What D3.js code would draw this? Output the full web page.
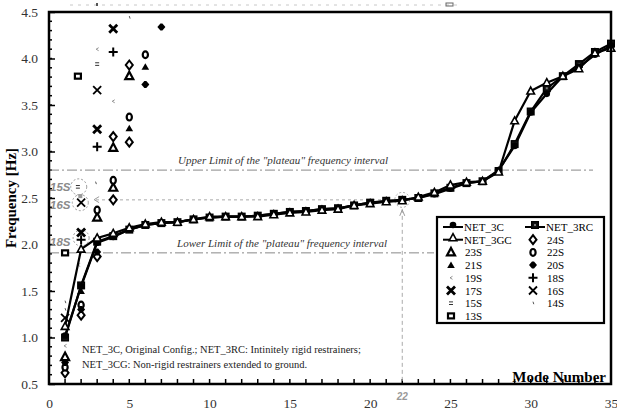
<!DOCTYPE html>
<html>
<head>
<meta charset="utf-8">
<script src="https://cdn.jsdelivr.net/npm/d3@7/dist/d3.min.js"></script>
<style>
  html, body { margin: 0; padding: 0; background: #fff; }
  svg { display: block; }
</style>
</head>
<body>
<svg id="chart" width="617" height="414" font-family="Liberation Serif, Times New Roman, serif"></svg>
<script>
// Mode numbers and natural frequencies [Hz] of the three complete structure models
const modes = d3.range(1, 36);
const net3C  = [1.02,1.55,2.02,2.08,2.16,2.21,2.23,2.24,2.27,2.29,2.30,2.30,2.31,2.33,2.35,2.36,2.38,2.39,2.42,2.45,2.46,2.48,2.50,2.54,2.60,2.66,2.68,2.80,3.06,3.42,3.62,3.81,3.91,4.04,4.14];
const net3RC = [1.00,1.56,2.03,2.09,2.16,2.21,2.23,2.24,2.27,2.29,2.30,2.30,2.31,2.33,2.35,2.36,2.38,2.39,2.42,2.45,2.47,2.48,2.50,2.55,2.61,2.66,2.68,2.79,3.08,3.43,3.68,3.81,3.94,4.07,4.16];
const net3GC = [1.12,1.95,2.07,2.12,2.18,2.22,2.24,2.24,2.27,2.30,2.30,2.30,2.30,2.32,2.34,2.35,2.37,2.38,2.42,2.44,2.46,2.47,2.51,2.56,2.64,2.67,2.68,2.78,3.33,3.65,3.74,3.81,3.89,4.06,4.11];

// Single substructure frequencies: [mode, frequency]
const s24 = [[1,0.62],[2,1.24],[3,1.87],[4,2.48],[4,3.16],[5,3.10],[5,3.93]];
const s23 = [[1,0.79],[3,2.29],[4,2.61],[4,3.04],[5,3.81]];
const s22 = [[1,0.68],[2,1.35],[3,2.37],[4,2.69],[5,3.37],[6,4.04]];
const s21 = [[2,1.50],[5,3.25],[6,3.91]];
const s20 = [[1,0.73],[2,1.30],[3,1.92],[6,3.72],[7,4.34]];
const s19 = [[1,0.91],[1.85,1.78],[3,4.10],[4,3.54]];
const s18 = [[2,2.05],[3,3.05],[4,4.07]];
const s17 = [[2,2.13],[3,3.24],[4,4.32]];
const s16 = [[1,1.21],[2,2.45],[3,3.66]];
const s15 = [[1.8,2.62],[3,3.94]];
const s14 = [[1,1.30],[1,1.38],[2.9,2.66],[5,4.44]];
const s13 = [[1,1.91],[1.8,3.81]];

const yTicks = [0.5,1.0,1.5,2.0,2.5,3.0,3.5,4.0,4.5];
const xTicks = [0,5,10,15,20,25,30,35];
const upperLimit = 2.8, lowerLimit = 1.91;
const markedMode = 22;

const SERIF = "Liberation Serif";
const SANS = "Liberation Sans";

const svg = d3.select("#chart");
const x = d3.scaleLinear().domain([0, 35]).range([49, 611]);
const y = d3.scaleLinear().domain([0.5, 4.5]).range([384, 12]);

// faint header remnant above the frame
svg.append("line").attr("x1", 70).attr("x2", 460).attr("y1", 5).attr("y2", 5)
  .attr("stroke", "#c8c8c8").attr("stroke-width", 1).attr("stroke-dasharray", "3,5");
svg.append("rect").attr("x", 96).attr("y", 3).attr("width", 2).attr("height", 3).attr("fill", "#555");
svg.append("rect").attr("x", 446).attr("y", 3).attr("width", 7).attr("height", 3).attr("fill", "none").attr("stroke", "#666");

// ---- axes ----
const yAxis = d3.axisLeft(y).tickValues(yTicks).tickFormat(d3.format(".1f"))
  .tickSizeInner(-6).tickSizeOuter(0).tickPadding(11);
const gy = svg.append("g").attr("transform", `translate(${x(0)},0)`).call(yAxis);
gy.attr("font-family", SERIF);
gy.select(".domain").remove();
gy.selectAll("text").attr("font-family", SERIF).attr("font-size", 13.5).attr("fill", "#333");
gy.selectAll("line").attr("stroke-width", 1.5);
// minor y ticks
svg.append("g").selectAll("line").data(d3.range(0.6, 4.45, 0.1))
  .join("line").attr("x1", x(0)).attr("x2", x(0) + 3)
  .attr("y1", d => y(d)).attr("y2", d => y(d)).attr("stroke", "#000").attr("stroke-width", 1.5);

const xAxis = d3.axisBottom(x).tickValues(xTicks).tickFormat(d3.format("d"))
  .tickSizeInner(0).tickSizeOuter(0).tickPadding(14);
const gx = svg.append("g").attr("transform", `translate(0,${y(0.5)})`).call(xAxis);
gx.attr("font-family", SERIF);
gx.select(".domain").remove();
gx.selectAll("text").attr("font-family", SERIF).attr("font-size", 13.5).attr("fill", "#333");
svg.append("g").selectAll("line").data(d3.range(1, 35))
  .join("line").attr("x1", d => x(d)).attr("x2", d => x(d))
  .attr("y1", y(0.5)).attr("y2", y(0.5) - 5).attr("stroke", "#000").attr("stroke-width", 1.5);

// ---- reference lines ----
svg.append("line").attr("x1", x(0)).attr("x2", 593).attr("y1", y(upperLimit)).attr("y2", y(upperLimit))
  .attr("stroke", "#888").attr("stroke-width", 1).attr("stroke-dasharray", "10,3,2,3");
svg.append("line").attr("x1", x(0)).attr("x2", 434).attr("y1", y(lowerLimit)).attr("y2", y(lowerLimit))
  .attr("stroke", "#888").attr("stroke-width", 1).attr("stroke-dasharray", "10,3,2,3");
svg.append("text").attr("x", 178).attr("y", y(upperLimit) - 6).attr("font-family", SERIF).attr("font-size", 11)
  .attr("font-style", "italic").attr("fill", "#333").attr("textLength", 210)
  .text('Upper Limit of the "plateau" frequency interval');
svg.append("text").attr("x", 177).attr("y", y(lowerLimit) - 6).attr("font-family", SERIF).attr("font-size", 11)
  .attr("font-style", "italic").attr("fill", "#333").attr("textLength", 210)
  .text('Lower Limit of the "plateau" frequency interval');

// plateau level at mode 22
const lvl = net3RC[markedMode - 1];
svg.append("line").attr("x1", 96).attr("x2", x(markedMode) - 7).attr("y1", y(lvl)).attr("y2", y(lvl))
  .attr("stroke", "#aaa").attr("stroke-width", 1).attr("stroke-dasharray", "3,3");
svg.append("line").attr("x1", x(markedMode)).attr("x2", x(markedMode)).attr("y1", y(lvl) + 9).attr("y2", y(0.5))
  .attr("stroke", "#aaa").attr("stroke-width", 1).attr("stroke-dasharray", "4,3");
svg.append("path").attr("d", `M${x(markedMode)-2.5},${y(lvl)+16} L${x(markedMode)},${y(lvl)+10} L${x(markedMode)+2.5},${y(lvl)+16}`)
  .attr("fill", "none").attr("stroke", "#999").attr("stroke-width", 1);
svg.append("circle").attr("cx", x(markedMode)).attr("cy", y(lvl)).attr("r", 7.5)
  .attr("fill", "none").attr("stroke", "#aaa").attr("stroke-dasharray", "2,2");
svg.append("text").attr("x", x(markedMode)).attr("y", 400).attr("text-anchor", "middle")
  .attr("font-family", SANS).attr("font-size", 10)
  .attr("font-style", "italic").attr("font-weight", "bold").attr("fill", "#999").text(markedMode);

// highlighted substructure modes
const callouts = [
  {label: "15S", m: 1.85, f: 2.62, ly: 191},
  {label: "16S", m: 1.95, f: 2.45, ly: 209},
  {label: "18S", m: 2.0, f: 2.07, ly: 246}
];
callouts.forEach(c => {
  svg.append("circle").attr("cx", x(c.m)).attr("cy", y(c.f)).attr("r", 8)
    .attr("fill", "none").attr("stroke", "#999").attr("stroke-dasharray", "2,2");
  svg.append("text").attr("x", 50).attr("y", c.ly).attr("font-size", 11.5)
    .attr("font-family", SANS)
    .attr("font-style", "italic").attr("font-weight", "bold").attr("fill", "#8a8a8a").text(c.label);
});
svg.append("path").attr("d", `M${x(2)+18},${y(2.45)-6} L${x(2)+13},${y(2.45)-3} L${x(2)+18},${y(2.45)}`)
  .attr("fill", "none").attr("stroke", "#999").attr("stroke-width", 1);
svg.append("rect").attr("x", x(1.95) - 2).attr("y", y(2.52) - 2).attr("width", 4).attr("height", 4).attr("fill", "#999");

// ---- marker shapes ----
function marker(g, type, cx, cy) {
  const s = g.append("g").attr("transform", `translate(${cx},${cy})`);
  switch (type) {
    case "dot":
      s.append("circle").attr("r", 3.3).attr("fill", "#000"); break;
    case "square":
      s.append("rect").attr("x", -3.3).attr("y", -3.3).attr("width", 6.6).attr("height", 6.6)
        .attr("fill", "#111").attr("stroke", "#000").attr("stroke-width", 1.4);
      s.append("rect").attr("x", -1).attr("y", -1).attr("width", 2).attr("height", 2).attr("fill", "#777"); break;
    case "tri":
      s.append("path").attr("d", "M0,-4 L3.8,3 L-3.8,3Z").attr("fill", "#fff").attr("stroke", "#000").attr("stroke-width", 1.6); break;
    case "triBold":
      s.append("path").attr("d", "M0,-4.5 L4,3 L-4,3Z").attr("fill", "#fff").attr("stroke", "#000").attr("stroke-width", 2.2); break;
    case "triFill":
      s.append("path").attr("d", "M0,-3.5 L3.8,3 L-3.8,3Z").attr("fill", "#000"); break;
    case "diamond":
      s.append("path").attr("d", "M0,-4.5 L3.5,0 L0,4.5 L-3.5,0Z").attr("fill", "#fff").attr("stroke", "#000").attr("stroke-width", 2); break;
    case "ring":
      s.append("ellipse").attr("rx", 2.6).attr("ry", 3.4).attr("fill", "#fff").attr("stroke", "#000").attr("stroke-width", 2.2); break;
    case "lens":
      s.append("path").attr("d", "M-4,0 L-1,-3.5 L1,-3.5 L4,0 L1,3.5 L-1,3.5Z").attr("fill", "#000"); break;
    case "tick":
      s.append("path").attr("d", "M1.5,-1.5 L-1,0 L1.5,1.5").attr("fill", "none").attr("stroke", "#777").attr("stroke-width", 0.8); break;
    case "plus":
      s.append("path").attr("d", "M-4.5,0 H4.5 M0,-4.5 V4.5").attr("stroke", "#000").attr("stroke-width", 2); break;
    case "xBold":
      s.append("path").attr("d", "M-4,-4 L4,4 M4,-4 L-4,4").attr("stroke", "#000").attr("stroke-width", 2.8); break;
    case "x":
      s.append("path").attr("d", "M-4,-4 L4,4 M4,-4 L-4,4").attr("stroke", "#000").attr("stroke-width", 1.8); break;
    case "eq":
      s.append("path").attr("d", "M-2,-1.3 H2 M-2,1.3 H2").attr("stroke", "#333").attr("stroke-width", 1); break;
    case "speck":
      s.append("path").attr("d", "M0,-1.5 L0.8,1").attr("stroke", "#555").attr("stroke-width", 1); break;
    case "box":
      s.append("rect").attr("x", -3).attr("y", -2.5).attr("width", 6).attr("height", 5)
        .attr("fill", "#fff").attr("stroke", "#000").attr("stroke-width", 2.2); break;
  }
}

// ---- substructure scatter ----
const scatter = [
  {name: "24S", data: s24, type: "diamond"},
  {name: "23S", data: s23, type: "triBold"},
  {name: "22S", data: s22, type: "ring"},
  {name: "21S", data: s21, type: "triFill"},
  {name: "20S", data: s20, type: "lens"},
  {name: "19S", data: s19, type: "tick"},
  {name: "18S", data: s18, type: "plus"},
  {name: "17S", data: s17, type: "xBold"},
  {name: "16S", data: s16, type: "x"},
  {name: "15S", data: s15, type: "eq"},
  {name: "14S", data: s14, type: "speck"},
  {name: "13S", data: s13, type: "box"}
];
const gS = svg.append("g");
scatter.forEach(s => s.data.forEach(p => marker(gS, s.type, x(p[0]), y(p[1]))));

// ---- complete structure curves ----
const series = [
  {name: "NET_3C", values: net3C, type: "dot"},
  {name: "NET_3RC", values: net3RC, type: "square"},
  {name: "NET_3GC", values: net3GC, type: "tri"}
];
const line = d3.line().x((d, i) => x(modes[i])).y(d => y(d));
series.forEach(s => {
  svg.append("path").attr("d", line(s.values)).attr("fill", "none")
    .attr("stroke", "#000").attr("stroke-width", 2.2).attr("stroke-linejoin", "round");
});
// squares first, then circles and triangles on top
[series[1], series[0], series[2]].forEach(s => {
  const g = svg.append("g");
  s.values.forEach((v, i) => marker(g, s.type, x(modes[i]), y(v)));
});

// ---- frame ----
svg.append("rect").attr("x", x(0)).attr("y", y(4.5)).attr("width", x(35) - x(0)).attr("height", y(0.5) - y(4.5))
  .attr("fill", "none").attr("stroke", "#000").attr("stroke-width", 2.5);

// ---- titles and notes ----
svg.append("text").attr("transform", `translate(16,${(y(0.5)+y(4.5))/2}) rotate(-90)`)
  .attr("font-family", SERIF).attr("text-anchor", "middle").attr("font-size", 15).attr("font-weight", "bold").text("Frequency [Hz]");
svg.append("text").attr("x", 606).attr("y", 382).attr("text-anchor", "end").attr("font-family", SERIF)
  .attr("font-size", 15).attr("font-weight", "bold").text("Mode Number");
svg.append("text").attr("x", 82).attr("y", 353).attr("font-family", SERIF).attr("font-size", 10.5).attr("fill", "#222")
  .text("NET_3C, Original Config.; NET_3RC: Intinitely rigid restrainers;");
svg.append("text").attr("x", 82).attr("y", 368).attr("font-family", SERIF).attr("font-size", 10.5).attr("fill", "#222")
  .text("NET_3CG: Non-rigid restrainers extended to ground.");

// ---- legend ----
const lg = svg.append("g");
lg.append("rect").attr("x", 437).attr("y", 217).attr("width", 167).attr("height", 106)
  .attr("fill", "#fff").attr("stroke", "#000").attr("stroke-width", 2.2);
const col1 = [series[0], series[2], scatter[1], scatter[3], scatter[5], scatter[7], scatter[9], scatter[11]];
const col2 = [series[1], scatter[0], scatter[2], scatter[4], scatter[6], scatter[8], scatter[10]];
function legendCol(items, x0) {
  items.forEach((it, i) => {
    const cy = 227 + i * 12.7;
    if (it.values) {
      lg.append("line").attr("x1", x0).attr("x2", x0 + 20).attr("y1", cy).attr("y2", cy)
        .attr("stroke", "#000").attr("stroke-width", 2);
      marker(lg, it.type, x0 + 10, cy - 2);
      lg.append("text").attr("x", x0 + 21).attr("y", cy + 4).attr("font-family", SERIF).attr("font-size", 11).text(it.name);
    } else {
      marker(lg, it.type, x0 + 8, cy);
      lg.append("text").attr("x", x0 + 22).attr("y", cy + 4).attr("font-family", SERIF).attr("font-size", 11).text(it.name);
    }
  });
}
legendCol(col1, 443);
legendCol(col2, 525);
</script>
</body>
</html>
